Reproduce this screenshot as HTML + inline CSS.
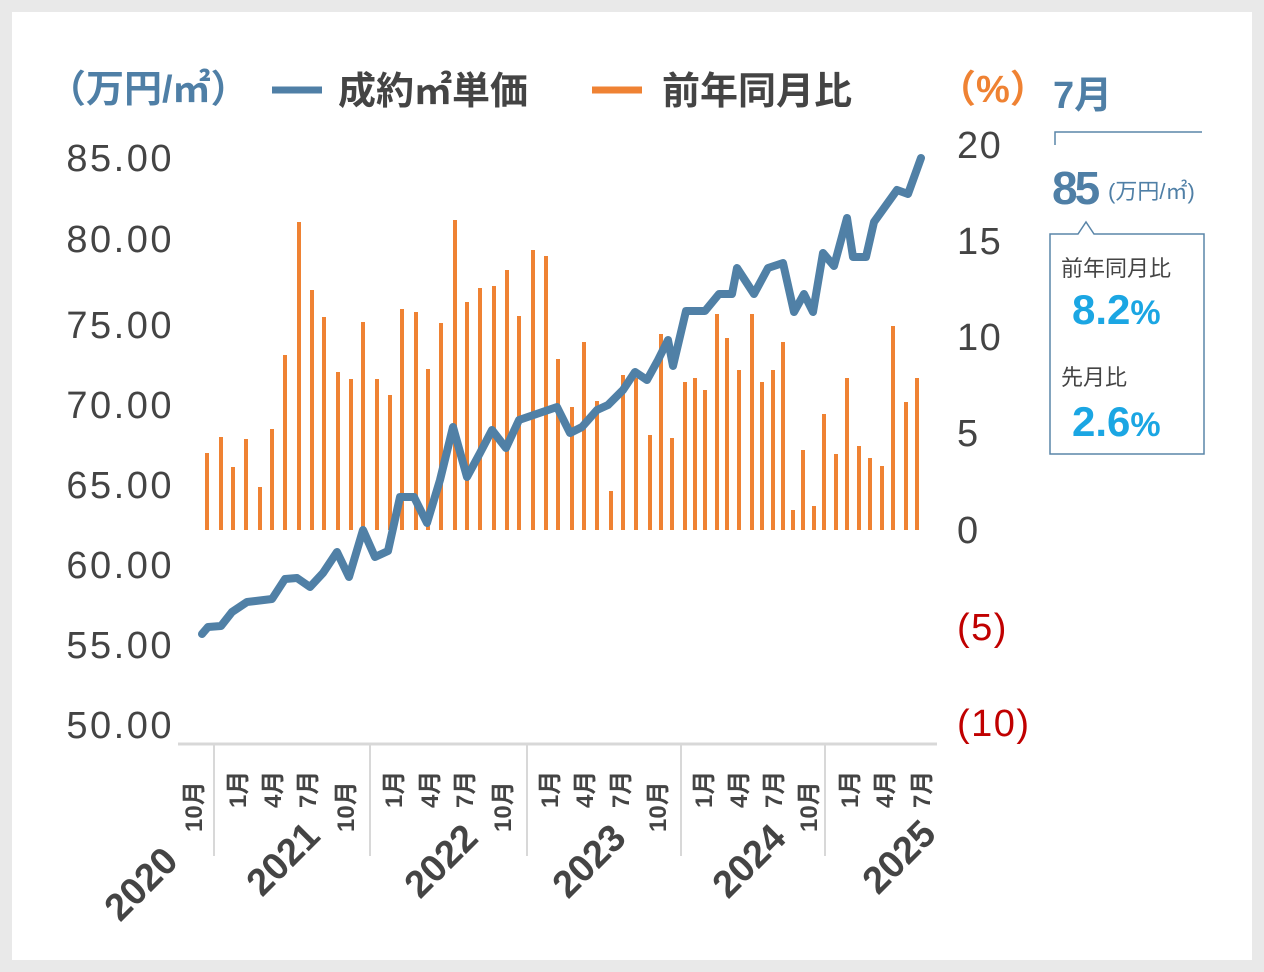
<!DOCTYPE html>
<html><head><meta charset="utf-8"><style>
body{margin:0;background:#e9e9e9;}
svg{display:block}
text{font-family:"Liberation Sans","Noto Sans CJK JP",sans-serif;}
</style></head><body>
<svg width="1264" height="972" viewBox="0 0 1264 972">
<rect x="0" y="0" width="1264" height="972" fill="#e9e9e9"/>
<rect x="12" y="12" width="1240" height="948" fill="#fff"/>
<!-- legend -->
<text x="48" y="102" font-size="38" fill="#4f7fa6" font-weight="bold">（万円/㎡）</text>
<line x1="272" y1="90" x2="322" y2="90" stroke="#4f7fa6" stroke-width="7"/>
<text x="338" y="104" font-size="38" fill="#444" font-weight="bold">成約㎡単価</text>
<line x1="592" y1="90" x2="642" y2="90" stroke="#ef8233" stroke-width="7"/>
<text x="662" y="104" font-size="38" fill="#444" font-weight="bold">前年同月比</text>
<text x="938" y="102" font-size="38" fill="#ef8233" font-weight="bold">（%）</text>
<!-- left axis -->
<g font-size="38" fill="#444" text-anchor="end" letter-spacing="2.5">
<text x="174" y="171">85.00</text><text x="174" y="252">80.00</text><text x="174" y="338">75.00</text>
<text x="174" y="418">70.00</text><text x="174" y="498">65.00</text><text x="174" y="578">60.00</text>
<text x="174" y="658">55.00</text><text x="174" y="738">50.00</text>
</g>
<g font-size="38" fill="#444" letter-spacing="1.5">
<text x="957" y="158">20</text><text x="957" y="254">15</text><text x="957" y="350">10</text>
<text x="957" y="446">5</text><text x="957" y="543">0</text>
<text x="957" y="640" fill="#c00000">(5)</text><text x="957" y="736" fill="#c00000">(10)</text>
</g>
<!-- axis -->
<line x1="178" y1="744" x2="937" y2="744" stroke="#d8d8d8" stroke-width="3"/>
<g stroke="#d8d8d8" stroke-width="2">
<line x1="214" y1="744" x2="214" y2="856"/><line x1="370" y1="744" x2="370" y2="856"/>
<line x1="527" y1="744" x2="527" y2="856"/><line x1="681" y1="744" x2="681" y2="856"/>
<line x1="825" y1="744" x2="825" y2="856"/>
</g>
<!-- bars -->
<g stroke="#ef8233" stroke-width="4">
<path d="M207 530V453M221 530V437M233 530V467M246 530V439M260 530V487M272 530V429M285 530V355M299 530V222M312 530V290M324 530V317M338 530V372M351 530V379M363 530V322M377 530V379M390 530V395M402 530V309M416 530V312M428 530V369M441 530V323M455 530V220M467 530V302M480 530V288M494 530V286M507 530V270M519 530V316M533 530V250M546 530V256M558 530V359M572 530V407M584 530V342M597 530V401M611 530V491M623 530V375M636 530V378M650 530V435M661 530V334M672 530V438M685 530V382M695 530V378M705 530V390M717 530V314M727 530V338M739 530V370M752 530V314M762 530V382M773 530V370M783 530V342M793 530V510M803 530V450M814 530V506M824 530V414M836 530V454M847 530V378M859 530V446M870 530V458M882 530V466M893 530V326M906 530V402M917 530V378"/>
</g>
<!-- line -->
<polyline fill="none" stroke="#5080a6" stroke-width="8" stroke-linejoin="round" stroke-linecap="round"
points="202,634 208,627 221,626 232,612 247,602 272,599 285,579 297,578 310,587 323,573 337,552 349,577 363,530 375,557 388,551 400,497 414,497 427,523 440,480 453,427 467,477 480,453 492,430 506,448 519,420 557,407 570,433 582,427 597,410 608,405 623,390 635,372 647,380 658,360 668,340 673,366 686,311 705,311 719,294 732,294 737,268 754,294 768,268 783,263 794,312 804,294 813,312 823,253 834,266 847,218 853,257 866,257 874,222 897,190 908,194 921,158"/>
<!-- month labels -->
<g font-size="24" fill="#444" font-weight="bold">
<text transform="translate(202,832) rotate(-90)">10月</text>
<text transform="translate(246,808) rotate(-90)">1月</text>
<text transform="translate(281,808) rotate(-90)">4月</text>
<text transform="translate(316,808) rotate(-90)">7月</text>
<text transform="translate(354,832) rotate(-90)">10月</text>
<text transform="translate(402,808) rotate(-90)">1月</text>
<text transform="translate(438,808) rotate(-90)">4月</text>
<text transform="translate(473,808) rotate(-90)">7月</text>
<text transform="translate(511,832) rotate(-90)">10月</text>
<text transform="translate(558,808) rotate(-90)">1月</text>
<text transform="translate(593,808) rotate(-90)">4月</text>
<text transform="translate(629,808) rotate(-90)">7月</text>
<text transform="translate(666,832) rotate(-90)">10月</text>
<text transform="translate(712,808) rotate(-90)">1月</text>
<text transform="translate(747,808) rotate(-90)">4月</text>
<text transform="translate(782,808) rotate(-90)">7月</text>
<text transform="translate(817,832) rotate(-90)">10月</text>
<text transform="translate(858,808) rotate(-90)">1月</text>
<text transform="translate(893,808) rotate(-90)">4月</text>
<text transform="translate(930,808) rotate(-90)">7月</text>
</g>
<g font-size="38" fill="#444" text-anchor="middle" font-weight="bold">
<text transform="translate(150,893) rotate(-45)">2020</text>
<text transform="translate(292,868) rotate(-45)">2021</text>
<text transform="translate(450,870) rotate(-45)">2022</text>
<text transform="translate(598,870) rotate(-45)">2023</text>
<text transform="translate(758,870) rotate(-45)">2024</text>
<text transform="translate(908,866) rotate(-45)">2025</text>
</g>
<!-- right panel -->
<text x="1053" y="108" font-size="38" fill="#4f7fa6" font-weight="bold">7月</text>
<path d="M1055 145V132H1202" fill="none" stroke="#5a85a8" stroke-width="1.5"/>
<text x="1052" y="204" font-size="46" fill="#4f7fa6" font-weight="bold" letter-spacing="-3">85</text>
<text x="1108" y="199" font-size="22" fill="#4f7fa6">(万円/㎡)</text>
<path d="M1050 234H1078L1086 222L1094 234H1204V454H1050Z" fill="#fff" stroke="#5a85a8" stroke-width="1.5"/>
<text x="1061" y="276" font-size="22" fill="#444">前年同月比</text>
<text x="1072" y="324" font-size="42" fill="#1ba6e3" font-weight="bold">8.2<tspan font-size="34">%</tspan></text>
<text x="1061" y="385" font-size="22" fill="#444">先月比</text>
<text x="1072" y="436" font-size="42" fill="#1ba6e3" font-weight="bold">2.6<tspan font-size="34">%</tspan></text>
</svg>
</body></html>
